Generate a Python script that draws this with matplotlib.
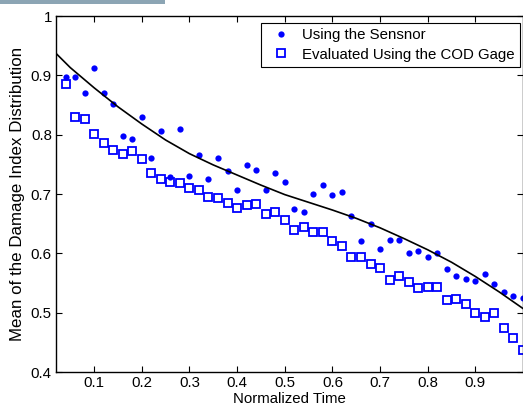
import numpy as np
import matplotlib
matplotlib.use('Agg')
import matplotlib.pyplot as plt
from matplotlib.ticker import FormatStrFormatter
from matplotlib.patches import Rectangle

plt.rcParams['font.family'] = ['Liberation Sans', 'DejaVu Sans']

# ── Data ─────────────────────────────────────────────────────────────────────
t = np.round(np.arange(0.04, 1.001, 0.02), 2)

sensor = [0.897, 0.898, 0.870, 0.913, 0.871, 0.851, 0.797, 0.792, 0.830, 0.761,
          0.807, 0.729, 0.810, 0.731, 0.766, 0.726, 0.761, 0.738, 0.707, 0.749,
          0.740, 0.707, 0.735, 0.720, 0.675, 0.670, 0.700, 0.716, 0.698, 0.703,
          0.663, 0.620, 0.650, 0.607, 0.622, 0.622, 0.601, 0.604, 0.594, 0.600,
          0.574, 0.562, 0.557, 0.553, 0.565, 0.548, 0.534, 0.528, 0.524]

cod = [0.885, 0.829, 0.826, 0.801, 0.786, 0.775, 0.767, 0.772, 0.759, 0.735,
       0.726, 0.721, 0.719, 0.710, 0.706, 0.695, 0.694, 0.685, 0.676, 0.681,
       0.683, 0.666, 0.670, 0.657, 0.640, 0.645, 0.636, 0.636, 0.621, 0.612,
       0.594, 0.594, 0.582, 0.576, 0.555, 0.561, 0.551, 0.542, 0.544, 0.543,
       0.521, 0.523, 0.515, 0.500, 0.492, 0.500, 0.475, 0.457, 0.437]

# fitted trend curve
fit_t = [0.02, 0.05, 0.10, 0.15, 0.20, 0.25, 0.30, 0.35, 0.40, 0.45, 0.50,
         0.55, 0.60, 0.65, 0.70, 0.75, 0.80, 0.85, 0.90, 0.95, 1.00]
fit_y = [0.937, 0.913, 0.879, 0.847, 0.818, 0.791, 0.768, 0.749, 0.732, 0.715, 0.699,
         0.686, 0.673, 0.659, 0.643, 0.625, 0.606, 0.585, 0.561, 0.535, 0.507]

xticks = [0.1, 0.2, 0.3, 0.4, 0.5, 0.6, 0.7, 0.8, 0.9]
yticks = [0.4, 0.5, 0.6, 0.7, 0.8, 0.9, 1.0]

W, H = 523, 407
FS = 10.8
fig = plt.figure(figsize=(W / 100, H / 100), dpi=100)
fig.patches.append(Rectangle((0, 1 - 4 / H), 165 / W, 4 / H, transform=fig.transFigure,
                             facecolor='#8ca5b4', edgecolor='none'))
ax = fig.add_axes([56 / W, 35 / H, 467 / W, 356 / H])

ax.plot(t, sensor, 'o', color='#0000ff', ms=4.5, mew=0, label='Using the Sensnor')
ax.plot(t, cod, 's', mfc='none', mec='#0000ff', ms=5.8, mew=1.3,
        label='Evaluated Using the COD Gage')
ax.plot(fit_t, fit_y, '-', color='black', lw=1.2)

ax.set_xlim(0.02, 1.0)
ax.set_ylim(0.4, 1.0)
ax.set_xticks(xticks)
ax.set_yticks(yticks)
ax.yaxis.set_major_formatter(FormatStrFormatter('%g'))
ax.tick_params(direction='in', top=True, right=True, length=4, width=0.8,
               labelsize=FS, colors='black', pad=3)
for s in ax.spines.values():
    s.set_linewidth(1.0)

ax.set_xlabel('Normalized Time', fontsize=FS, labelpad=1)
ax.set_ylabel('Mean of the Damage Index Distribution', fontsize=12.2, labelpad=4)

leg = ax.legend(loc='upper right', bbox_to_anchor=(520 / W, 1 - 23 / H),
                bbox_transform=fig.transFigure, borderaxespad=0, fancybox=False,
                framealpha=1, edgecolor='black', fontsize=FS, handlelength=2.0,
                handletextpad=0.4, borderpad=0.35, labelspacing=0.35)
leg.get_frame().set_linewidth(0.8)

fig.savefig('out.png', dpi=100)
